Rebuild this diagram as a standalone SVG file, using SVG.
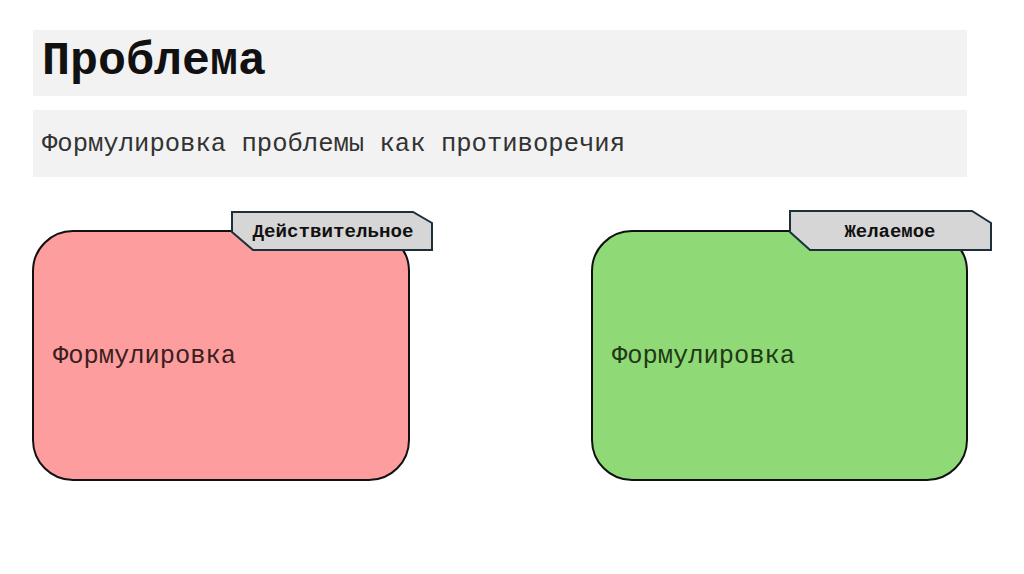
<svg xmlns="http://www.w3.org/2000/svg" width="1024" height="574" viewBox="0 0 1024 574">
<style>
.band{fill:#f2f2f2}
.mono{font-family:"Liberation Mono","Courier New",monospace}
.box{stroke:#111;stroke-width:2}
.tab{fill:#d6d6d6;stroke:#1d2f3a;stroke-width:2;stroke-linejoin:miter}
.tabtxt{font-family:"Liberation Mono","Courier New",monospace;font-weight:bold;font-size:18px;fill:#111}
.body{font-family:"Liberation Mono","Courier New",monospace;font-size:25px}
</style>
<rect width="1024" height="574" fill="#ffffff"/>
<g id="title">
<rect class="band" x="33" y="30" width="934" height="66"/>
<text class="mono" x="42" y="74" font-size="46" font-weight="bold" fill="#111" textLength="224" lengthAdjust="spacingAndGlyphs">Проблема</text>
</g>
<g id="subtitle">
<rect class="band" x="33" y="110" width="934" height="67"/>
<text class="mono" x="42" y="151" font-size="25" fill="#333" textLength="583" lengthAdjust="spacingAndGlyphs">Формулировка проблемы как противоречия</text>
</g>
<g id="actual">
<rect class="box" x="33" y="231" width="376" height="249" rx="40" ry="40" fill="#fe9d9d"/>
<polygon class="tab" points="232,212 413,212 432,223 432,250 253,250 232,232"/>
<text class="tabtxt" x="333" y="237" text-anchor="middle" textLength="161" lengthAdjust="spacingAndGlyphs">Действительное</text>
<text class="body" x="53" y="363" fill="#3a1f1f" textLength="183" lengthAdjust="spacingAndGlyphs">Формулировка</text>
</g>
<g id="desired">
<rect class="box" x="592" y="231" width="375" height="249" rx="40" ry="40" fill="#8fd977"/>
<polygon class="tab" points="790,211 972,211 991,223 991,250 810,250 790,232"/>
<text class="tabtxt" x="890" y="237" text-anchor="middle" textLength="91" lengthAdjust="spacingAndGlyphs">Желаемое</text>
<text class="body" x="612" y="363" fill="#1f3a16" textLength="183" lengthAdjust="spacingAndGlyphs">Формулировка</text>
</g>
<g id="connectors"/>
</svg>
